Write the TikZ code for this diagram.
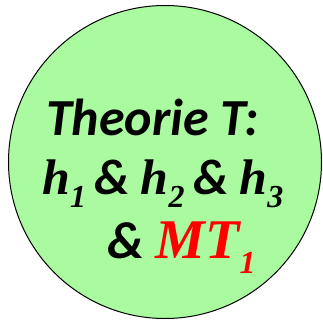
\documentclass[tikz,border=0pt]{standalone}
\usepackage{fontspec}
\setmainfont{Carlito}
\newfontfamily\hypfont{Liberation Serif}
\definecolor{theorygreen}{RGB}{170,250,160}
\newcommand{\idx}[1]{\raisebox{-0.27em}{\fontsize{32}{32}\selectfont #1}}
\tikzset{
  theorybox/.style={circle,draw=black,line width=1pt,fill=theorygreen,minimum size=313pt,inner sep=0pt},
  label text/.style={anchor=base west,inner sep=0pt,font=\fontsize{52}{52}\selectfont\bfseries\itshape}
}
\begin{document}
\begin{tikzpicture}[x=1pt,y=-1pt]
        \useasboundingbox (0,0) rectangle (323,324);
        \node[theorybox] (theory) at (165,162){};

        \node[label text] (title) at (46,135){Theorie T:};
        \node[label text,font=\fontsize{50}{50}\selectfont\bfseries\itshape] (hyps) at (42,194){{\hypfont h}\idx{\hypfont 1}\,\& {\hypfont h}\idx{\hypfont 2}\,\& {\hypfont h}\idx{\hypfont 3}};
        \node[label text] (mt) at (107,258){\& {\color{red}\fontsize{56}{56}\selectfont\hypfont MT\idx{1}}};
      \end{tikzpicture}
\end{document}
